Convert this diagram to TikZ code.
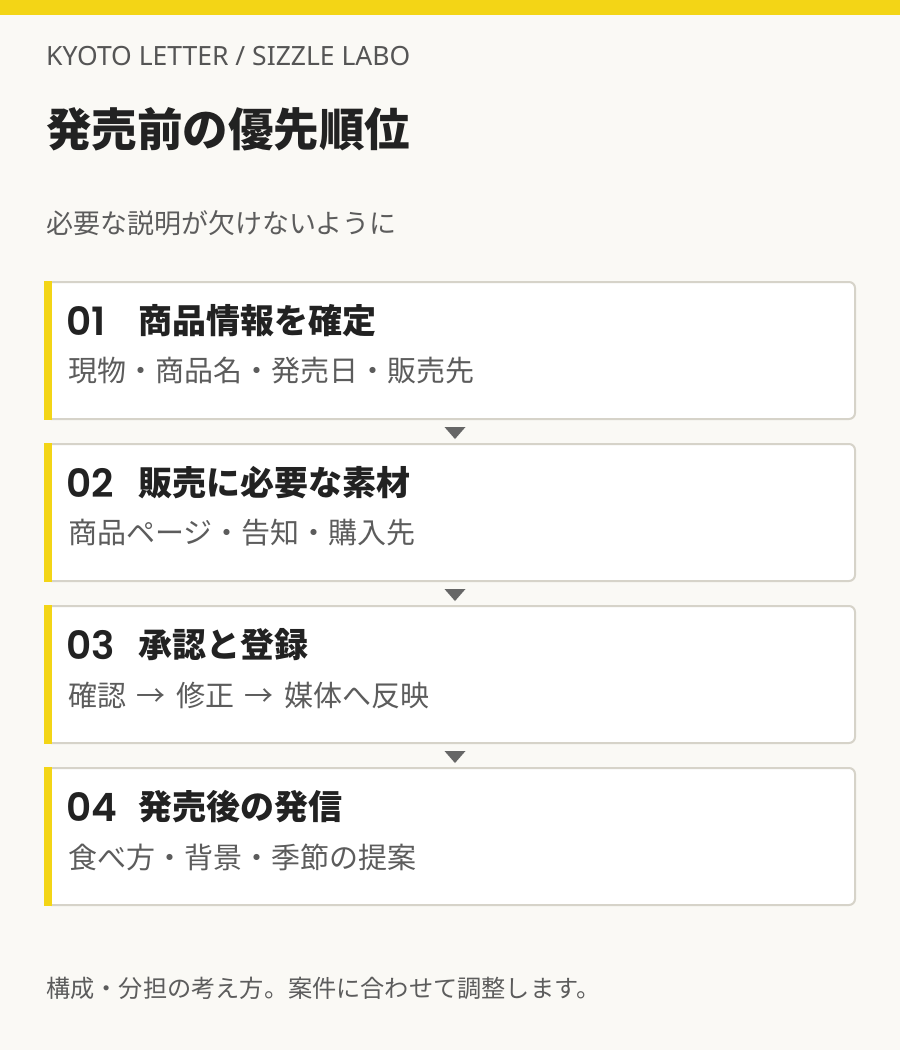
\documentclass[tikz,border=0pt]{standalone}
\usepackage{fontspec}
\setmainfont{Noto Sans CJK JP}
\newfontfamily\latinfont{Noto Sans}
\newfontfamily\numfont{Poppins}[BoldFont={Poppins SemiBold}]
\usepackage{tikz}
\usetikzlibrary{positioning,calc}

\definecolor{paper}{HTML}{FAF9F5}
\definecolor{baryellow}{HTML}{F3D516}
\definecolor{cardline}{HTML}{D6D3C9}
\definecolor{ink}{HTML}{222222}
\definecolor{note}{HTML}{5C5C5C}
\definecolor{kicker}{HTML}{555555}
\definecolor{marker}{HTML}{666666}

\newcommand{\wsp}{\ \kern4pt}

\begin{document}
\begin{tikzpicture}
[   x=1pt, y=-1pt,
    card/.style={draw=cardline, line width=2pt, fill=white, rounded corners=6pt, minimum width=810pt, minimum height=137pt, inner sep=0pt},
    stepnum/.style={anchor=west, inner sep=0pt, text=ink, font=\numfont\fontsize{39}{44}\selectfont\bfseries},
    steptitle/.style={anchor=west, inner sep=0pt, text=ink, font=\fontsize{34}{40}\selectfont\bfseries},
    stepnote/.style={anchor=west, inner sep=0pt, text=note, font=\fontsize{29}{34}\selectfont},
]
    \fill[paper] (0,0) rectangle (900,1050);
    \useasboundingbox (0,0) rectangle (900,1050);
    \fill[baryellow] (0,0) rectangle (900,15);

    \node[anchor=base west, inner sep=0pt, text=kicker, font=\latinfont\fontsize{26.5}{30}\selectfont] (kicker) at (46,65) {KYOTO LETTER / SIZZLE LABO};
    \node[anchor=west, inner sep=0pt, text=ink, font=\fontsize{45.5}{54}\selectfont\bfseries] (heading) at (46,129) {発売前の優先順位};
    \node[anchor=west, inner sep=0pt, text=note, font=\fontsize{27}{32}\selectfont] (lead) at (46,223) {必要な説明が欠けないように};

    \foreach \i/\num/\head/\body in {1/01/商品情報を確定/現物・商品名・発売日・販売先,
                                     2/02/販売に必要な素材/商品ページ・告知・購入先,
                                     3/03/承認と登録/確認\wsp{}→\wsp{}修正\wsp{}→\wsp{}媒体へ反映,
                                     4/04/発売後の発信/食べ方・背景・季節の提案}
    {
        \pgfmathsetmacro{\ytop}{281+162*(\i-1)}
        \node[card] (s-\i) at (450,\ytop+69.5) {};
        \fill[baryellow] (44,\ytop) rectangle (52,\ytop+139);
        \node[stepnum] (c-\i) at (66,\ytop+40) {\num};
        \node[steptitle] (t-\i) at (138,\ytop+40) {\head};
        \node[stepnote] (n-\i) at (68,\ytop+90) {\body};
    }

    % markers between the cards
    \foreach \i in {1,...,3}
    {
        \coordinate (m-\i) at ($(s-\i.south)+(5,7)$);
        \fill[marker] (m-\i) ++(-10.5,0) -- ++(21,0) -- ++(-10.5,12) -- cycle;
    }

    \node[anchor=west, inner sep=0pt, text=note, font=\fontsize{24.2}{28}\selectfont] (footer) at (46,988) {構成・分担の考え方。案件に合わせて調整します。};

\end{tikzpicture}
\end{document}
